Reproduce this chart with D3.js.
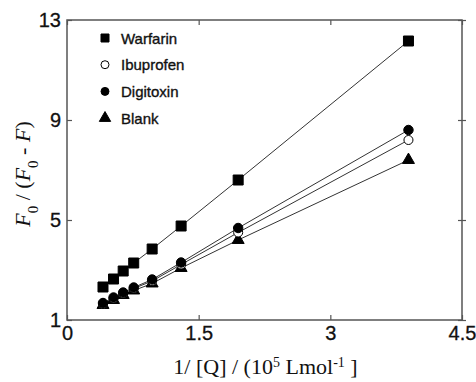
<!DOCTYPE html>
<html>
<head>
<meta charset="utf-8">
<script src="https://cdn.jsdelivr.net/npm/d3@7"></script>
<style>
  body { margin: 0; background: #fff; }
  svg { display: block; }
</style>
</head>
<body>
<svg id="chart" width="476" height="382"></svg>
<script>
// data
const invQ = [0.41, 0.53, 0.64, 0.76, 0.97, 1.3, 1.95, 3.89];
const warfarin  = [2.32, 2.64, 2.96, 3.28, 3.84, 4.76, 6.6, 12.16];
const ibuprofen = [1.64, 1.86, 2.06, 2.26, 2.56, 3.22, 4.5, 8.2];
const digitoxin = [1.68, 1.9, 2.1, 2.3, 2.62, 3.3, 4.68, 8.6];
const blank     = [1.6, 1.8, 2.0, 2.18, 2.46, 3.08, 4.2, 7.4];
const seriesNames = ["Warfarin", "Ibuprofen", "Digitoxin", "Blank"];
const xTicks = [0, 1.5, 3, 4.5];
const yTicks = [1, 5, 9, 13];

const svg = d3.select("#chart");
const margin = { top: 20, right: 14, bottom: 62, left: 67 };
const width = +svg.attr("width") - margin.left - margin.right;
const height = +svg.attr("height") - margin.top - margin.bottom;
const g = svg.append("g").attr("transform", `translate(${margin.left},${margin.top})`);

const x = d3.scaleLinear().domain([0, 4.5]).range([0, width]);
const y = d3.scaleLinear().domain([1, 13]).range([height, 0]);

const frameColor = "#555";
const tickFont = "'Liberation Sans', Arial, sans-serif";

// axes (ticks inward)
const styleAxis = ax => {
  ax.select(".domain").remove();
  ax.selectAll(".tick line").attr("stroke", frameColor).attr("stroke-width", 1.2);
  ax.selectAll(".tick text")
    .attr("fill", "#111")
    .attr("stroke", "#111")
    .attr("stroke-width", 0.3)
    .style("font-family", tickFont)
    .style("font-size", "20px");
};

g.append("g")
  .attr("transform", `translate(0,${height})`)
  .call(d3.axisBottom(x).tickValues(xTicks).tickFormat(d3.format("")).tickSizeInner(-5).tickPadding(6))
  .call(styleAxis);

g.append("g")
  .call(d3.axisLeft(y).tickValues(yTicks).tickFormat(d3.format("d")).tickSizeInner(-5).tickPadding(6))
  .call(styleAxis);

g.append("g")
  .call(d3.axisTop(x).tickValues(xTicks).tickSizeInner(-5).tickFormat(""))
  .call(styleAxis);

g.append("g")
  .attr("transform", `translate(${width},0)`)
  .call(d3.axisRight(y).tickValues(yTicks).tickSizeInner(4).tickSizeOuter(0).tickFormat(""))
  .call(styleAxis)
  .selectAll(".tick line").attr("x1", -4);

// frame
g.append("rect")
  .attr("width", width)
  .attr("height", height)
  .attr("fill", "none")
  .attr("stroke", frameColor)
  .attr("stroke-width", 1.5);

// series
const seriesData = [warfarin, ibuprofen, digitoxin, blank];
const symbols = [
  { type: d3.symbolSquare, size: 100, legendSize: 64, fill: "#000" },
  { type: d3.symbolCircle, size: 64, legendSize: 50, fill: "#fff" },
  { type: d3.symbolCircle, size: 70, legendSize: 50, fill: "#000" },
  { type: d3.symbolTriangle, size: 62, legendSize: 56, fill: "#000" }
];

const line = d3.line().x(d => x(d[0])).y(d => y(d[1]));

seriesData.forEach((vals, i) => {
  const pts = invQ.map((q, j) => [q, vals[j]]);
  g.append("path")
    .datum(pts)
    .attr("fill", "none")
    .attr("stroke", "#333")
    .attr("stroke-width", 1)
    .attr("d", line);
});

// markers on top of the lines
[0, 3, 1, 2].forEach(i => {
  const pts = invQ.map((q, j) => [q, seriesData[i][j]]);
  g.selectAll(null)
    .data(pts)
    .enter()
    .append("path")
    .attr("transform", d => `translate(${x(d[0])},${y(d[1])})`)
    .attr("d", d3.symbol().type(symbols[i].type).size(symbols[i].size))
    .attr("fill", symbols[i].fill)
    .attr("stroke", "#000")
    .attr("stroke-width", 1);
});

// legend
const legend = g.append("g").attr("transform", "translate(38,18)");
seriesNames.forEach((name, i) => {
  const row = legend.append("g").attr("transform", `translate(0,${i * 26.7})`);
  row.append("path")
    .attr("d", d3.symbol().type(symbols[i].type).size(symbols[i].legendSize))
    .attr("fill", symbols[i].fill)
    .attr("stroke", "#000")
    .attr("stroke-width", 1);
  row.append("text")
    .attr("x", 16)
    .attr("y", 5.5)
    .style("font-family", tickFont)
    .style("font-size", "15px")
    .attr("fill", "#111")
    .attr("stroke", "#111")
    .attr("stroke-width", 0.35)
    .text(name);
});

// axis titles
const serif = "'Liberation Serif', 'Times New Roman', serif";

const xTitle = svg.append("text")
  .attr("x", margin.left + width / 2 + 1)
  .attr("y", 374)
  .attr("text-anchor", "middle")
  .style("font-family", serif)
  .style("font-size", "22px")
  .attr("fill", "#111");
xTitle.append("tspan").text("1/ [Q] / (10");
xTitle.append("tspan").attr("baseline-shift", "super").style("font-size", "14px").text("5");
xTitle.append("tspan").text(" Lmol");
xTitle.append("tspan").attr("baseline-shift", "super").style("font-size", "14px").text("-1");
xTitle.append("tspan").text(" ]");

const yTitle = svg.append("text")
  .attr("transform", `translate(30,${margin.top + height / 2 + 4}) rotate(-90)`)
  .attr("text-anchor", "middle")
  .style("font-family", serif)
  .style("font-size", "22px")
  .attr("fill", "#111");
yTitle.append("tspan").style("font-style", "italic").text("F");
yTitle.append("tspan").attr("baseline-shift", "sub").style("font-size", "15px").text("0");
yTitle.append("tspan").text(" / (");
yTitle.append("tspan").style("font-style", "italic").text("F");
yTitle.append("tspan").attr("baseline-shift", "sub").style("font-size", "15px").text("0");
yTitle.append("tspan").text(" - ");
yTitle.append("tspan").style("font-style", "italic").text("F");
yTitle.append("tspan").text(")");
</script>
</body>
</html>
